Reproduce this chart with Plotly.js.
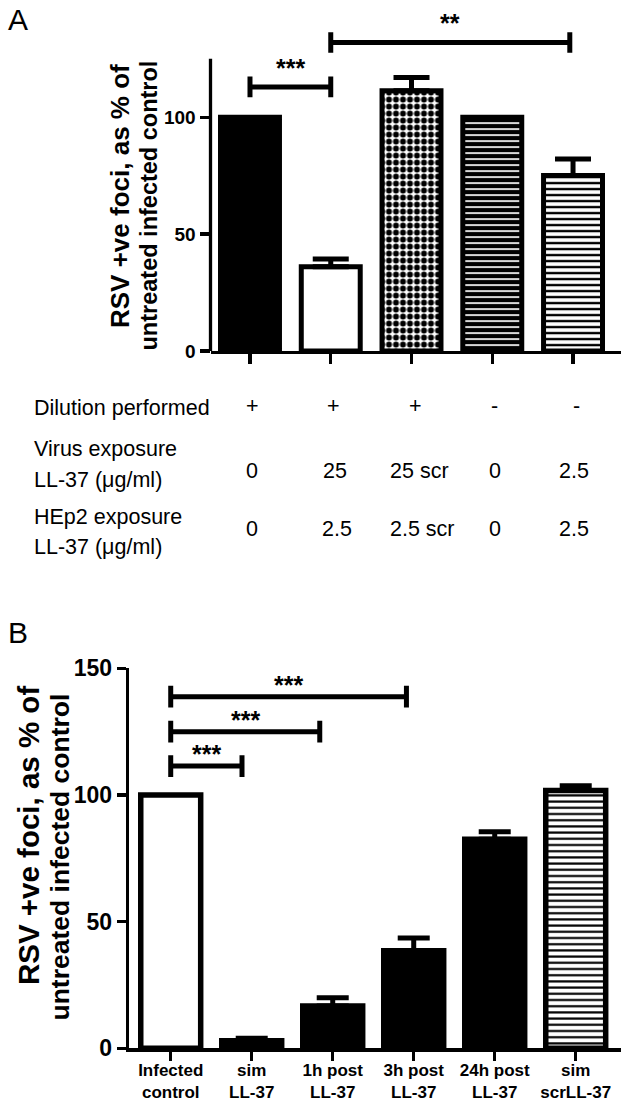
<!DOCTYPE html>
<html>
<head>
<meta charset="utf-8">
<script src="https://cdn.plot.ly/plotly-3.0.1.min.js"></script>
<style>html,body{margin:0;padding:0;background:#fff}</style>
</head>
<body>
<div id="chart" style="width:626px;height:1105px"></div>
<script>
// ---- panel A data ----
var groupsA = ['control', 'LL-37', 'scrLL-37', 'control (no dilution)', 'LL-37 (no dilution)'];
var valuesA = [100, 36, 111.4, 100, 75.1];
var errorsA = [0, 3.4, 5.6, 0, 7];
var dilution = ['+', '+', '+', '-', '-'];
var virusLL37 = ['0', '25', '25 scr', '0', '2.5'];
var hep2LL37 = ['0', '2.5', '2.5 scr', '0', '2.5'];
var rowLabels = [['Dilution performed'], ['Virus exposure', 'LL-37 (\u03bcg/ml)'], ['HEp2 exposure', 'LL-37 (\u03bcg/ml)']];

// ---- panel B data ----
var labelsB = ['Infected<br>control', 'sim<br>LL-37', '1h post<br>LL-37', '3h post<br>LL-37', '24h post<br>LL-37', 'sim<br>scrLL-37'];
var valuesB = [100, 3, 16.7, 38.5, 82.5, 101.8];
var errorsB = [0, 1, 3.3, 5, 3, 1.8];

// significance brackets: from, to, height, label
var sigA = [[0, 1, 113, '***'], [1, 3.96, 132, '**']];
var sigB = [[0, 0.88, 111.4, '***'], [0, 1.84, 125, '***'], [0, 2.91, 138.8, '***']];

var yTitle = ['RSV +ve foci, as % of', 'untreated infected control'];

// bar fills (style only)
var fillA = [
  {color: 'black'},
  {color: 'white'},
  {color: 'white', shape: '.', bg: 'white', fg: 'black', size: 7, solidity: 0.55},
  {color: 'black', shape: '-', bg: 'black', fg: 'white', size: 6, solidity: 0.28},
  {color: 'white', shape: '-', bg: 'white', fg: 'black', size: 6, solidity: 0.4}
];
var fillB = [
  {color: 'white'}, {color: 'black'}, {color: 'black'}, {color: 'black'}, {color: 'black'},
  {color: 'white', shape: '-', bg: 'white', fg: 'black', size: 6.2, solidity: 0.35}
];

var SANS = 'Liberation Sans, Arial, sans-serif';

function py(px) { return (1105 - px) / 1105; }
function idx(arr) { return arr.map(function(d, i) { return i; }); }

function barTraces(vals, errs, names, fills, xa, ya, w, lw, capw) {
  return vals.map(function(v, i) {
    var f = fills[i];
    var marker = {color: f.color, line: {color: 'black', width: lw}};
    if (f.shape) {
      marker.pattern = {shape: f.shape, bgcolor: f.bg, fgcolor: f.fg, fgopacity: 1,
        size: f.size, solidity: f.solidity, fillmode: 'replace'};
    }
    return {
      type: 'bar', x: [i], y: [v], name: names[i], width: w, xaxis: xa, yaxis: ya,
      marker: marker,
      error_y: {type: 'data', symmetric: false, array: [errs[i]], arrayminus: [0],
        color: 'black', thickness: 5, width: capw, visible: errs[i] > 0}
    };
  });
}

var plainB = labelsB.map(function(s) { return s.replace('<br>', ' '); });
var traces = barTraces(valuesA, errorsA, groupsA, fillA, 'x', 'y', 0.73, 5, 18)
  .concat(barTraces(valuesB, errorsB, plainB, fillB, 'x2', 'y2', 0.74, 5.5, 16));

function bracket(s, xr, yr, h) {
  return {
    type: 'path', xref: xr, yref: yr, layer: 'above',
    path: 'M' + s[0] + ',' + (s[2] - h) + 'V' + (s[2] + h) +
          'M' + s[0] + ',' + s[2] + 'H' + s[1] +
          'M' + s[1] + ',' + (s[2] - h) + 'V' + (s[2] + h),
    line: {color: 'black', width: 5}
  };
}
function stars(s, xr, yr, shift) {
  return {
    xref: xr, yref: yr, x: (s[0] + s[1]) / 2, y: s[2], yanchor: 'bottom',
    yshift: shift, text: s[3], showarrow: false,
    font: {family: SANS, size: 25, color: 'black', weight: 'bold'}
  };
}

var shapes = [
  // panel A y axis line stops at 125
  {type: 'line', xref: 'x domain', yref: 'y domain', x0: 0, x1: 0, y0: 0, y1: 125 / 145,
   line: {color: 'black', width: 3.3}}
];
sigA.forEach(function(s) { shapes.push(bracket(s, 'x', 'y', 4.4)); });
sigB.forEach(function(s) { shapes.push(bracket(s, 'x2', 'y2', 4.3)); });

var annotations = [];
sigA.forEach(function(s) { annotations.push(stars(s, 'x', 'y', 3)); });
sigB.forEach(function(s) { annotations.push(stars(s, 'x2', 'y2', -4)); });

function txt(x, y, s, opt) {
  var a = {xref: 'paper', yref: 'paper', x: x, y: y, text: s, showarrow: false,
    xanchor: 'center', yanchor: 'middle',
    font: {family: SANS, size: 21.5, color: 'black'}};
  for (var k in opt) a[k] = opt[k];
  return a;
}

// panel letters
annotations.push(txt(6 / 626, py(19), 'A', {xanchor: 'left', font: {family: SANS, size: 30, color: 'black'}}));
annotations.push(txt(6 / 626, py(632), 'B', {xanchor: 'left', font: {family: SANS, size: 30, color: 'black'}}));

// table under panel A
var labelY = [[408], [448.5, 480], [517, 547]];
rowLabels.forEach(function(lines, r) {
  lines.forEach(function(l, j) {
    annotations.push(txt(31.5 / 626, py(labelY[r][j]), l, {xanchor: 'left'}));
  });
});
var rows = [dilution, virusLL37, hep2LL37];
var rowY = [406, 470.5, 529];
var colShift = [[3, 3, 4, 2, 3], [2, 4, 8, 3, 1], [2, 6, 11, 3, 1]];
rows.forEach(function(row, r) {
  row.forEach(function(v, i) {
    annotations.push({xref: 'x', yref: 'paper', x: i, y: py(rowY[r]), text: v,
      xshift: colShift[r][i], showarrow: false, xanchor: 'center', yanchor: 'middle',
      font: {family: SANS, size: 21.5, color: 'black'}});
  });
});

// y axis titles: first line set a little larger, as in the figure
function ytitle(x, y, s, size) {
  return txt(x / 626, py(y), s, {textangle: -90,
    font: {family: SANS, size: size, color: 'black', weight: 'bold'}});
}
annotations.push(ytitle(120, 196, yTitle[0], 26));
annotations.push(ytitle(148, 205.5, yTitle[1], 23.5));
annotations.push(ytitle(28, 836, yTitle[0], 29.5));
annotations.push(ytitle(59, 857.5, yTitle[1], 26.5));

var layout = {
  width: 626, height: 1105,
  margin: {l: 0, r: 0, t: 0, b: 0},
  paper_bgcolor: 'white', plot_bgcolor: 'white',
  showlegend: false, barmode: 'overlay',
  xaxis: {
    domain: [210.5 / 626, 621 / 626], range: [-0.489, 4.594], anchor: 'y',
    showline: true, linewidth: 3.3, linecolor: 'black',
    tickvals: idx(valuesA), showticklabels: false,
    ticks: 'outside', ticklen: 10, tickwidth: 3.3, tickcolor: 'black',
    showgrid: false, zeroline: false, fixedrange: true
  },
  yaxis: {
    domain: [py(351), py(12.1)], range: [0, 145], anchor: 'x',
    showline: false, tickvals: [0, 50, 100],
    ticks: 'outside', ticklen: 10, tickwidth: 3.3, tickcolor: 'black',
    tickfont: {family: SANS, size: 19, color: 'black', weight: 'bold'},
    showgrid: false, zeroline: false, fixedrange: true
  },
  xaxis2: {
    domain: [129 / 626, 621 / 626], range: [-0.515, 5.559], anchor: 'y2',
    showline: true, linewidth: 3.3, linecolor: 'black',
    tickvals: idx(valuesB), ticktext: labelsB, tickangle: 0, ticklabelstandoff: -5,
    tickfont: {family: SANS, size: 17, color: 'black', weight: 'bold'},
    ticks: 'outside', ticklen: 9, tickwidth: 3.3, tickcolor: 'black',
    showgrid: false, zeroline: false, fixedrange: true
  },
  yaxis2: {
    domain: [py(1048.3), py(668.3)], range: [0, 150], anchor: 'x2',
    showline: true, linewidth: 3.3, linecolor: 'black', tickvals: [0, 50, 100, 150],
    ticks: 'outside', ticklen: 9, tickwidth: 3.3, tickcolor: 'black',
    tickfont: {family: SANS, size: 23, color: 'black', weight: 'bold'},
    showgrid: false, zeroline: false, fixedrange: true
  },
  shapes: shapes,
  annotations: annotations
};

Plotly.newPlot('chart', traces, layout, {displayModeBar: false, staticPlot: true});
</script>
</body>
</html>
